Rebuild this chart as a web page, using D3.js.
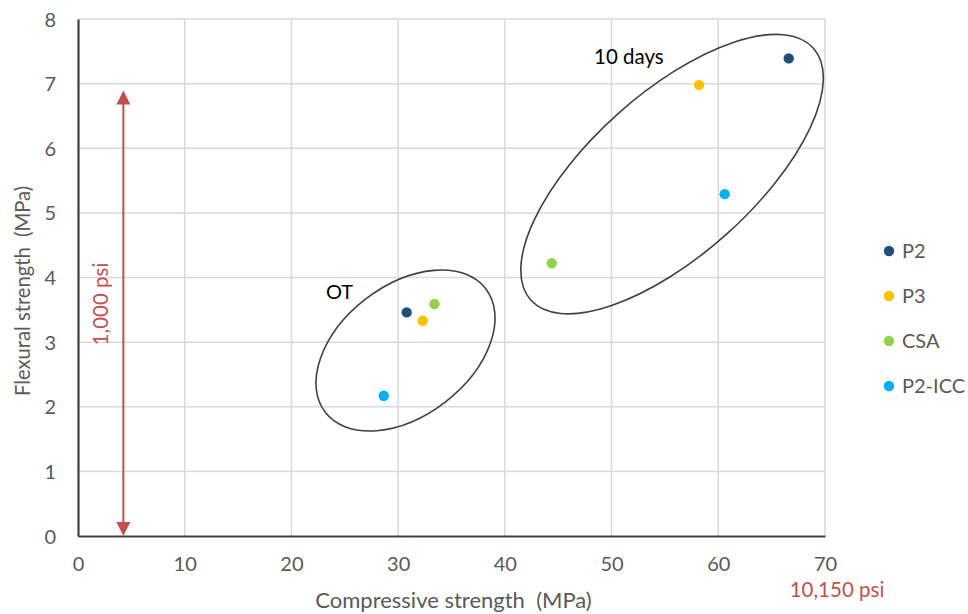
<!DOCTYPE html>
<html>
<head>
<meta charset="utf-8">
<script src="https://cdn.jsdelivr.net/npm/d3@7/dist/d3.min.js"></script>
<style>
  html, body { margin: 0; padding: 0; background: #fff; }
  svg { display: block; font-family: Lato, "Open Sans", sans-serif; }
</style>
</head>
<body>
<svg id="chart" width="968" height="614"></svg>
<script>
// ---- data ----
const seriesNames = ["P2", "P3", "CSA", "P2-ICC"];
const seriesColors = ["#1f4e79", "#ffc000", "#92d050", "#00b0f0"];
const otCompressive = [30.8, 32.3, 33.4, 28.65];
const otFlexural = [3.46, 3.33, 3.59, 2.17];
const tenDayCompressive = [66.6, 58.2, 44.4, 60.6];
const tenDayFlexural = [7.39, 6.98, 4.22, 5.29];
const xTicks = [0, 10, 20, 30, 40, 50, 60, 70];
const yTicks = [0, 1, 2, 3, 4, 5, 6, 7, 8];
const groupLabels = ["OT", "10 days"];
const groupCenters = [[30.69, 2.87], [55.67, 5.60]]; // data coords of ellipse centres
const psiArrow = { x: 4.25, from: 0, to: 6.895, label: "1,000 psi" };
const psiAxisNote = { x: 70, label: "10,150 psi" };

// ---- layout ----
const svg = d3.select("#chart");
const m = { left: 78, top: 19, right: 143, bottom: 78 };
const W = 968, H = 614;
const x = d3.scaleLinear().domain([0, 70]).range([m.left, W - m.right]);
const y = d3.scaleLinear().domain([0, 8]).range([H - m.bottom, m.top]);

const tickColor = "#595959";
const fs = 20;

// grid
svg.append("g").selectAll("line.v").data(xTicks.slice(1)).join("line")
  .attr("x1", d => x(d)).attr("x2", d => x(d))
  .attr("y1", y(0)).attr("y2", y(8))
  .attr("stroke", "#d9d9d9").attr("stroke-width", 1.5);
svg.append("g").selectAll("line.h").data(yTicks.slice(1)).join("line")
  .attr("x1", x(0)).attr("x2", x(70))
  .attr("y1", d => y(d)).attr("y2", d => y(d))
  .attr("stroke", "#d9d9d9").attr("stroke-width", 1.5);

// axes
const xAxis = d3.axisBottom(x).tickValues(xTicks).tickSize(0).tickPadding(21);
const yAxis = d3.axisLeft(y).tickValues(yTicks).tickSize(0).tickPadding(22);
const gx = svg.append("g").attr("transform", `translate(0,${y(0)})`).call(xAxis);
const gy = svg.append("g").attr("transform", `translate(${x(0)},0)`).call(yAxis);
[gx, gy].forEach(g => {
  g.select(".domain").attr("stroke", "#404040").attr("stroke-width", 2.2);
  g.selectAll("text").attr("fill", tickColor).style("font-size", fs + "px")
    .style("font-family", "Lato, sans-serif");
});
gx.selectAll("text").attr("dy", "0.71em");
gy.selectAll("text").attr("dy", "0.35em");

// axis titles
svg.append("text").attr("x", (x(0) + x(70)) / 2 + 2).attr("y", 608)
  .attr("text-anchor", "middle").attr("fill", tickColor).style("font-size", "22px")
  .style("white-space", "pre").text("Compressive strength  (MPa)");
svg.append("text").attr("transform", `translate(30,291) rotate(-90)`)
  .attr("text-anchor", "middle").attr("fill", tickColor).style("font-size", "20.2px")
  .style("white-space", "pre").text("Flexural strength  (MPa)");

// ellipses
const ellipseShapes = [{ rx: 101.3, ry: 65.1, rot: -37.6 }, { rx: 189.3, ry: 81.1, rot: -41.7 }];
svg.append("g").selectAll("ellipse").data(groupCenters).join("ellipse")
  .attr("transform", (d, i) => `translate(${x(d[0])},${y(d[1])}) rotate(${ellipseShapes[i].rot})`)
  .attr("rx", (d, i) => ellipseShapes[i].rx).attr("ry", (d, i) => ellipseShapes[i].ry)
  .attr("fill", "none").attr("stroke", "#404040").attr("stroke-width", 1.6);

// group labels
svg.append("text").attr("x", 326).attr("y", 299).attr("fill", "#000")
  .style("font-size", fs + "px").text(groupLabels[0]);
svg.append("text").attr("x", 594).attr("y", 64).attr("fill", "#000")
  .style("font-size", "20.5px").text(groupLabels[1]);

// points
const pts = [];
seriesNames.forEach((s, i) => {
  pts.push({ s: i, cx: otCompressive[i], cy: otFlexural[i] });
  pts.push({ s: i, cx: tenDayCompressive[i], cy: tenDayFlexural[i] });
});
svg.append("g").selectAll("circle").data(pts).join("circle")
  .attr("cx", d => x(d.cx)).attr("cy", d => y(d.cy)).attr("r", 5.2)
  .attr("fill", d => seriesColors[d.s]);

// red arrow
const red = "#c0504d";
const ax = x(psiArrow.x), yTop = y(psiArrow.to), yBot = y(psiArrow.from);
const ah = 14, aw = 7;
svg.append("line").attr("x1", ax).attr("x2", ax).attr("y1", yTop + ah - 1).attr("y2", yBot - ah + 1)
  .attr("stroke", red).attr("stroke-width", 2);
svg.append("path").attr("d", `M${ax},${yTop} L${ax - aw},${yTop + ah} L${ax + aw},${yTop + ah} Z`).attr("fill", red);
svg.append("path").attr("d", `M${ax},${yBot} L${ax - aw},${yBot - ah} L${ax + aw},${yBot - ah} Z`).attr("fill", red);
svg.append("text").attr("transform", `translate(108,304) rotate(-90)`)
  .attr("text-anchor", "middle").attr("fill", red).style("font-size", "20.5px").text(psiArrow.label);
svg.append("text").attr("x", x(psiAxisNote.x) + 12).attr("y", 597)
  .attr("text-anchor", "middle").attr("fill", red).style("font-size", "20.5px").text(psiAxisNote.label);

// legend
const lg = svg.append("g").selectAll("g").data(seriesNames).join("g")
  .attr("transform", (d, i) => `translate(889,${251 + i * 45})`);
lg.append("circle").attr("r", 5.2).attr("fill", (d, i) => seriesColors[i]);
lg.append("text").attr("x", 13).attr("dy", "0.35em").attr("fill", tickColor)
  .style("font-size", fs + "px").text(d => d);
</script>
</body>
</html>
